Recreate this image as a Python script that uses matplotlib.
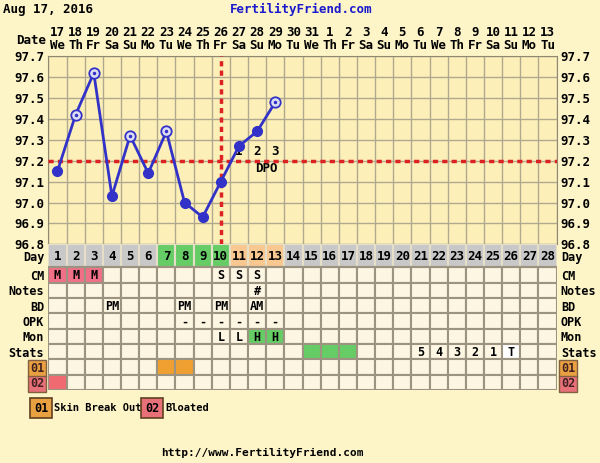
import numpy as np
import matplotlib.pyplot as plt

# chart data
dates = [17, 18, 19, 20, 21, 22, 23, 24, 25, 26, 27, 28, 29, 30, 31,
         1, 2, 3, 4, 5, 6, 7, 8, 9, 10, 11, 12, 13]
weekdays = ['We', 'Th', 'Fr', 'Sa', 'Su', 'Mo', 'Tu',
            'We', 'Th', 'Fr', 'Sa', 'Su', 'Mo', 'Tu',
            'We', 'Th', 'Fr', 'Sa', 'Su', 'Mo', 'Tu',
            'We', 'Th', 'Fr', 'Sa', 'Su', 'Mo', 'Tu']
cycle_days = list(range(1, 29))
temp_days = list(range(1, 14))
temps = [97.15, 97.42, 97.62, 97.03, 97.32, 97.14, 97.34,
         97.00, 96.93, 97.10, 97.27, 97.34, 97.48]
open_days = [2, 3, 5, 7, 13]
temp_ticks = [96.8, 96.9, 97.0, 97.1, 97.2, 97.3, 97.4, 97.5, 97.6, 97.7]
coverline = 97.2
ovulation_day = 10
dpo_days = [11, 12, 13]
dpo_labels = ['1', '2', '3']

fertile_days = [7, 8, 9, 10]
luteal_days = [11, 12, 13]
cm = {1: 'M', 2: 'M', 3: 'M', 10: 'S', 11: 'S', 12: 'S'}
notes = {12: '#'}
bd = {4: 'PM', 8: 'PM', 10: 'PM', 12: 'AM'}
opk = {8: '-', 9: '-', 10: '-', 11: '-', 12: '-', 13: '-'}
mon = {10: 'L', 11: 'L', 12: 'H', 13: 'H'}
mon_high = [12, 13]
stats = {21: '5', 22: '4', 23: '3', 24: '2', 25: '1', 26: 'T'}
stats_green = [15, 16, 17]
stats_test = [26]
sym01_days = [7, 8]
sym02_days = [1]
row_labels = ['Day', 'CM', 'Notes', 'BD', 'OPK', 'Mon', 'Stats', '01', '02']

# colours
BG = '#fdf4c8'
PLOT_BG = '#fcf0b8'
CELL = '#fdf6e3'
GRID = '#b0a890'
EDGE = '#9c9480'
BLUE = '#3232c8'
RED = '#dd2222'
GREY = '#c8c8c8'
GREEN = '#66cc66'
PEACH = '#f8c890'
PINK = '#f07088'
ORANGE = '#f0a030'
RED02 = '#f06a72'

plt.rcParams['font.family'] = 'DejaVu Sans Mono'
plt.rcParams['font.weight'] = 'bold'
plt.rcParams['font.size'] = 9

W, H = 600, 463
fig = plt.figure(figsize=(6, 4.63), dpi=100, facecolor=BG)


def box(l, t, r, b):
    return [l / W, 1 - b / H, (r - l) / W, (b - t) / H]


# temperature chart
ax_t = fig.add_axes(box(48.4, 56.2, 556.6, 244.3))
ax_t.set_facecolor(PLOT_BG)
ax_t.set_xlim(0.5, 28.5)
ax_t.set_ylim(96.8, 97.7)
ax_t.set_xticks(cycle_days, labels=[f"{d}\n{w}" for d, w in zip(dates, weekdays)])
ax_t.xaxis.tick_top()
for lbl in ax_t.get_xticklabels():
    lbl.set_linespacing(1.0)
ax_t.set_xticks(np.arange(0.5, 29, 1), minor=True)
ax_t.set_yticks(temp_ticks, labels=[f"{t:.1f}" for t in temp_ticks])
ax_t.tick_params(axis='x', which='both', length=0, pad=3)
ax_t.tick_params(axis='y', length=0, labelleft=True, labelright=True, pad=3)
ax_t.grid(which='minor', axis='x', color=GRID, lw=1)
ax_t.grid(which='major', axis='y', color=GRID, lw=1)
for s in ax_t.spines.values():
    s.set_color('#908870')

ax_t.axhline(coverline, color=RED, lw=2.5, ls=(0, (1.5, 1.2)), zorder=3)
ax_t.axvline(ovulation_day, color=RED, lw=2.5, ls=(0, (1.5, 1.2)), zorder=3)

for d, lbl in zip(dpo_days, dpo_labels):
    ax_t.text(d, 97.245, lbl, ha='center', va='center', zorder=2)
ax_t.text(np.mean(dpo_days[1:]), 97.165, 'DPO', ha='center', va='center', zorder=2)

ax_t.plot(temp_days, temps, color=BLUE, lw=2, zorder=4)
fx = [d for d in temp_days if d not in open_days]
fy = [t for d, t in zip(temp_days, temps) if d not in open_days]
ox = [d for d in temp_days if d in open_days]
oy = [t for d, t in zip(temp_days, temps) if d in open_days]
ax_t.plot(fx, fy, 'o', ms=7, color=BLUE, zorder=5)
ax_t.plot(ox, oy, 'o', ms=7.5, mfc='#dcdcf2', mec=BLUE, mew=1.3, zorder=5)
ax_t.plot(ox, oy, '.', ms=3, color=BLUE, zorder=6)

# data table
ax_b = fig.add_axes(box(48.4, 244.3, 556.6, 390))
ax_b.set_facecolor(BG)
ax_b.set_xlim(0.5, 28.5)
ax_b.set_ylim(9.5, 0)

day_cols = [GREEN if d in fertile_days else PEACH if d in luteal_days else GREY
            for d in cycle_days]
ax_b.bar(cycle_days, 1.5, bottom=0, width=1, color=day_cols, edgecolor='#e6dfc8', lw=1.5)
ax_b.axhline(1.5, color=EDGE, lw=1.5)
for d in cycle_days:
    ax_b.text(d, 0.8, str(d), ha='center', va='center')

row_cells = [
    (cm, {d: PINK for d in cm if cm[d] == 'M'}),
    (notes, {}),
    (bd, {}),
    (opk, {}),
    (mon, {d: GREEN for d in mon_high}),
    (stats, {**{d: GREEN for d in stats_green}, **{d: 'white' for d in stats_test}}),
    ({}, {d: ORANGE for d in sym01_days}),
    ({}, {d: RED02 for d in sym02_days}),
]
for i, (texts, fills) in enumerate(row_cells):
    top = 1.5 + i
    cols = [fills.get(d, CELL) for d in cycle_days]
    ax_b.bar(cycle_days, 1, bottom=top, width=1, color=cols, edgecolor=EDGE, lw=1.5)
    for d, t in texts.items():
        ax_b.text(d, top + 0.55, t, ha='center', va='center', fontsize=8.5)

ax_b.set_xticks([])
ax_b.set_yticks([0.75, 2, 3, 4, 5, 6, 7, 8, 9], labels=row_labels, fontsize=8.5)
ax_b.tick_params(axis='y', length=0, labelleft=True, labelright=True, pad=3)
for s in ax_b.spines.values():
    s.set_visible(False)
ticks = ax_b.yaxis.get_major_ticks()
for tk, fc in zip(ticks[-2:], ['#e8a040', '#e87078']):
    for lbl in (tk.label1, tk.label2):
        lbl.set_color('#402020')
        lbl.set_bbox(dict(boxstyle='square,pad=0.15', fc=fc, ec='#806040', lw=1))

# header, legend and footer
fig.text(3 / W, 1 - 9 / H, 'Aug 17, 2016', va='center')
fig.text(301 / W, 1 - 9 / H, 'FertilityFriend.com', ha='center', va='center', color='#1a1acc')
fig.text(46 / W, 1 - 40 / H, 'Date', ha='right', va='center')
fig.text(41 / W, 1 - 408 / H, '01', ha='center', va='center', fontsize=8.5,
         bbox=dict(boxstyle='square,pad=0.3', fc='#e8a040', ec='#604020', lw=1.2))
fig.text(54 / W, 1 - 408 / H, 'Skin Break Out', ha='left', va='center', fontsize=7.5)
fig.text(152 / W, 1 - 408 / H, '02', ha='center', va='center', fontsize=8.5,
         bbox=dict(boxstyle='square,pad=0.3', fc='#e87078', ec='#604020', lw=1.2))
fig.text(165 / W, 1 - 408 / H, 'Bloated', ha='left', va='center', fontsize=7.5)
fig.text(262 / W, 1 - 453 / H, 'http://www.FertilityFriend.com', ha='center', va='center',
         fontsize=8)

fig.savefig('out.png', dpi=100, facecolor=BG)
